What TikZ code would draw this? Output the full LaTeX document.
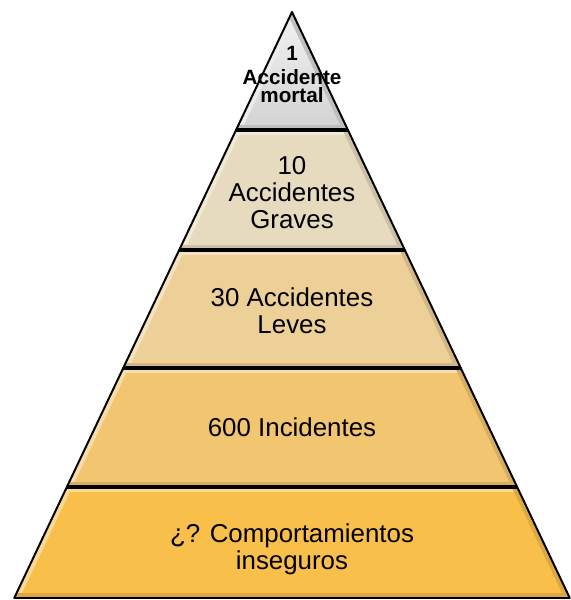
\documentclass[tikz,border=0pt]{standalone}
\usepackage{fontspec}
\setmainfont{Liberation Sans}
\usepackage{tikz}

\definecolor{bandB}{HTML}{E6DABF}
\definecolor{bandC}{HTML}{EDCF98}
\definecolor{bandD}{HTML}{F2C670}
\definecolor{bandE}{HTML}{F9BF4B}

\begin{document}
\begin{tikzpicture}[x=0.025cm, y=-0.025cm,
  every node/.style={font=\fontsize{18.4}{19.1}\selectfont, align=center, inner sep=0pt},
  band/.style={draw=black, line width=1.4pt, line join=round},
  split/.style={draw=black, line width=2.6pt}]
  \useasboundingbox (0,0) rectangle (571,600);

  % Top (grey) band
  \coordinate (apex) at (292,12);
  \coordinate (a1) at ({292-0.474*118},130);
  \coordinate (a2) at ({292+0.474*118},130);
  \shade[top color=gray!10, bottom color=gray!35] (apex) -- (a2) -- (a1) -- cycle;
  \begin{scope}
    \clip (apex) -- (a2) -- (a1) -- cycle;
    \draw[white!85!gray, line width=7pt] (a1) -- (apex);
    \draw[gray!50, line width=7pt] (apex) -- (a2) -- (a1);
  \end{scope}
  \draw[band] (apex) -- (a2) -- (a1) -- cycle;

  % Lower bands, with bevel
  \foreach \yt/\yb/\col in {130/250/bandB, 250/368/bandC, 368/487/bandD, 487/598/bandE} {
    \pgfmathsetmacro\xtl{292-0.474*(\yt-12)}
    \pgfmathsetmacro\xtr{292+0.474*(\yt-12)}
    \pgfmathsetmacro\xbl{292-0.474*(\yb-12)}
    \pgfmathsetmacro\xbr{292+0.474*(\yb-12)}
    \fill[\col] (\xtl,\yt) -- (\xtr,\yt) -- (\xbr,\yb) -- (\xbl,\yb) -- cycle;
    \begin{scope}
      \clip (\xtl,\yt) -- (\xtr,\yt) -- (\xbr,\yb) -- (\xbl,\yb) -- cycle;
      \draw[\col!60!white, line width=7pt] (\xbl,\yb) -- (\xtl,\yt) -- (\xtr,\yt);
      \draw[\col!88!black, line width=7pt] (\xtr,\yt) -- (\xbr,\yb) -- (\xbl,\yb);
    \end{scope}
    \draw[band] (\xtl,\yt) -- (\xtr,\yt) -- (\xbr,\yb) -- (\xbl,\yb) -- cycle;
    \draw[split] (\xtl,\yt) -- (\xtr,\yt);
  }

  % Labels
  \node[font=\fontsize{14.7}{13.2}\selectfont\bfseries] (mortal) at (292,74.5)
    {1\\[4pt]Accidente\\mortal};
  \node (graves) at (292,192.5) {10\\Accidentes\\Graves};
  \node (leves) at (292,310.5) {30 Accidentes\\Leves};
  \node (incid) at (292,427.5) {600 Incidentes};
  \node (insegur) at (292,549) {¿? Comportamientos\\inseguros};
\end{tikzpicture}
\end{document}
